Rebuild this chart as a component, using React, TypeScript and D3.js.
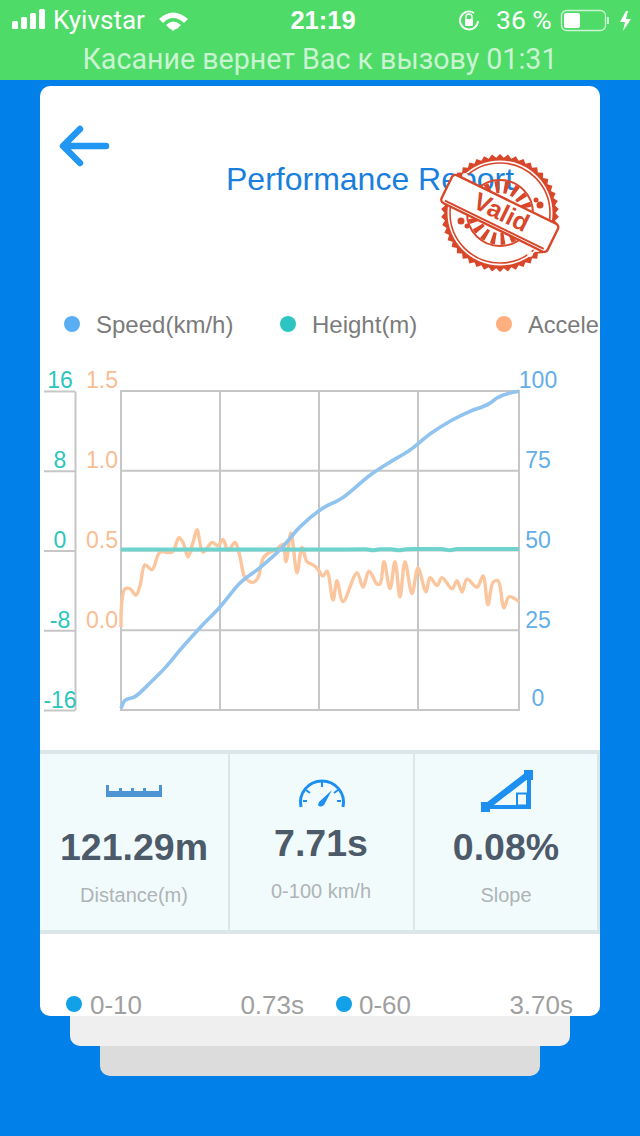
import React, { useEffect, useRef } from 'react';
import * as d3 from 'd3';

// sample index along the run, 398 samples in total
const speedSamples = [0, 4, 14, 29, 44, 59, 79, 99, 119, 139, 159, 179, 199, 222, 249, 269, 289, 309, 329, 349, 369, 376, 398];
const speedValues = [0.5, 3, 4.2, 8.5, 13.2, 18.8, 25.8, 32.3, 39.8, 44.6, 50.2, 57.4, 62.7, 66.6, 73.6, 77.7, 81.5, 86.5, 90.5, 93.6, 96.2, 97.8, 99.9];

const accelSamples = [0, 1, 4, 9, 15, 19, 24, 31, 39, 51, 58, 62, 67, 72, 76, 82, 91, 97, 102, 107, 114, 119, 124, 132, 137, 143, 156, 162, 165, 170, 176, 181, 186, 192, 196, 202, 206, 212, 216, 222, 236, 242, 248, 256, 259, 263, 269, 274, 279, 284, 291, 297, 305, 309, 316, 321, 331, 336, 341, 346, 356, 362, 367, 372, 377, 383, 388, 398];
const accelValues = [0.02, 0.19, 0.26, 0.26, 0.22, 0.28, 0.41, 0.38, 0.49, 0.49, 0.58, 0.55, 0.46, 0.55, 0.63, 0.49, 0.55, 0.53, 0.57, 0.5, 0.55, 0.46, 0.33, 0.3, 0.33, 0.46, 0.51, 0.54, 0.43, 0.61, 0.36, 0.52, 0.43, 0.41, 0.39, 0.34, 0.37, 0.19, 0.31, 0.18, 0.36, 0.27, 0.37, 0.29, 0.29, 0.43, 0.26, 0.43, 0.21, 0.43, 0.23, 0.39, 0.24, 0.33, 0.28, 0.33, 0.26, 0.31, 0.24, 0.32, 0.27, 0.34, 0.16, 0.3, 0.31, 0.14, 0.21, 0.18];

const heightSamples = [0, 100, 200, 245, 252, 259, 270, 278, 285, 295, 320, 329, 336, 398];
const heightValues = [0.1, 0.1, 0.1, 0.12, 0.02, 0.12, 0.12, 0.02, 0.12, 0.14, 0.14, 0.03, 0.14, 0.15];

const gridSamples = [0, 99, 198, 297, 398];
const speedTicks = [100, 75, 50, 25, 0];
const heightTicks = [16, 8, 0, -8, -16];
const accelTicks = [1.5, 1.0, 0.5, 0.0];

const legendNames = ['Speed(km/h)', 'Height(m)', 'Accele'];
const legendColors = ['#5aaef4', '#2cc5c2', '#fdb07e'];

const statValues = ['121.29m', '7.71s', '0.08%'];
const statLabels = ['Distance(m)', '0-100 km/h', 'Slope'];

const FONT = '"Liberation Sans", Arial, sans-serif';

const x = d3.scaleLinear().domain([0, 398]).range([121, 519]);
const ySpeed = d3.scaleLinear().domain([0, 100]).range([710, 391]);
const yHeight = d3.scaleLinear().domain([-16, 16]).range([710, 391]);
const yAccel = d3.scaleLinear().domain([-0.5, 1.5]).range([710, 391]);

function makeLine(xs: number[], ys: number[], scale: d3.ScaleLinear<number, number>, curve: d3.CurveFactory) {
  const pts = xs.map((d, i) => [d, ys[i]] as [number, number]);
  return d3.line<[number, number]>()
    .x(d => x(d[0]))
    .y(d => scale(d[1]))
    .curve(curve)(pts) as string;
}

const Stamp: React.FC = () => {
  const red = '#d9472b';
  const teeth = d3.range(0, 92).map(i => {
    const a = (i / 92) * Math.PI * 2;
    return [a, i % 2 === 0 ? 59 : 55.5] as [number, number];
  });
  const star = d3.lineRadial<[number, number]>().angle(d => d[0]).radius(d => d[1]).curve(d3.curveLinearClosed)(teeth) as string;
  const ring = d3.arc()({ innerRadius: 52.5, outerRadius: 0, startAngle: 0, endAngle: Math.PI * 2 }) as string;
  return (
    <g transform="translate(500,213)">
      <path d={`${star} ${ring}`} fill={red} fillRule="evenodd" />
      <circle r={50} fill="none" stroke={red} strokeWidth={1.6} />
      <circle r={33} fill="none" stroke={red} strokeWidth={2} />
      <circle r={26} fill="none" stroke={red} strokeWidth={12} strokeDasharray="4 5" />
      <g fill="#fff" opacity={0.9}>
        <circle cx={-41} cy={-32} r={4} />
        <circle cx={-35} cy={-37} r={3} />
        <circle cx={37} cy={35} r={4} />
        <circle cx={30} cy={41} r={3} />
      </g>
      <g fill={red}>
        <circle cx={40} cy={-8} r={3.5} />
        <circle cx={36} cy={-13} r={2.5} />
        <circle cx={-39} cy={8} r={3.5} />
        <circle cx={-33} cy={13} r={2.5} />
      </g>
      <g transform="rotate(26)">
        <rect x={-59} y={-15} width={118} height={31} rx={4} fill="#fff" stroke={red} strokeWidth={2.4} />
        <line x1={-55} x2={55} y1={13} y2={13} stroke={red} strokeWidth={2} />
        <text x={1} y={7} textAnchor="middle" fontFamily={FONT} fontSize={25} fontWeight={700} fill={red}>Valid</text>
      </g>
    </g>
  );
};

const StatusBar: React.FC = () => (
  <g fontFamily={FONT} fill="#fff">
    <rect x={0} y={0} width={640} height={80} fill="#4fdb67" />
    {[8, 12, 16, 20].map((h, i) => (
      <rect key={i} x={12 + i * 9} y={29 - h} width={6} height={h} rx={1.5} />
    ))}
    <text x={53} y={29} fontFamily="Roboto" fontSize={26}>Kyivstar</text>
    <path d="M159,19 Q173,6 188,19 L184,23 Q173,13 163,23 Z M166,25 Q173,18 181,25 L177,29 Q173,25 170,29 Z M173,31 L170,28 Q173,26 177,28 Z" />
    <text x={323} y={29} textAnchor="middle" fontWeight={700} fontSize={25.5}>21:19</text>
    <path d="M478,21 A9,9 0 1 1 474,13" fill="none" stroke="#fff" strokeWidth={1.8} />
    <rect x={465} y={19} width={8} height={7} rx={1} />
    <path d="M466,19 v-2 a3,3 0 0 1 6,0 v2" fill="none" stroke="#fff" strokeWidth={1.4} />
    <text x={496} y={29} fontFamily="Roboto" fontSize={26.5}>36 %</text>
    <rect x={561.5} y={10.5} width={44} height={20} rx={5} fill="none" stroke="#c9f3d2" strokeWidth={1.4} />
    <rect x={564} y={13} width={16} height={15} rx={2} />
    <rect x={607} y={17} width={2} height={7} fill="#c9f3d2" />
    <path d="M626,11 L620,22 L625,22 L623,31 L631,19 L626,19 L628,11 Z" />
    <text x={320} y={69} textAnchor="middle" fontFamily="Roboto" fontSize={28.6} fill="#c9f3d2">Касание вернет Вас к вызову 01:31</text>
  </g>
);

const StatIcons: React.FC = () => (
  <g>
    <path d="M106,785 h3 v6 h10 v-3 h3 v3 h9 v-3 h3 v3 h9 v-3 h3 v3 h13 v-6 h3 v12 h-56 Z" fill="#4d94d4" />
    <g fill="none" stroke="#1c8ff0">
      <path d="M301,807 A21.5,21.5 0 1 1 343,807" strokeWidth={3} />
      <path d="M322,782 v5 M306,790 l4,3 M338,790 l-4,3 M303,801 h4 M341,801 h-4" strokeWidth={2} />
    </g>
    <path d="M319,802 L332,790 L324,805 Q320,808 318,805 Z" fill="#1c8ff0" />
    <g fill="#1c8ff0">
      <rect x={481} y={802} width={9} height={10} />
      <rect x={524} y={770} width={9} height={10} />
      <rect x={527} y={775} width={4} height={34} />
      <rect x={485} y={805} width={46} height={4} />
      <path d="M486,803 L525,773 L529,778 L490,808 Z" />
    </g>
    <rect x={517} y={793.5} width={10} height={12} fill="none" stroke="#1c8ff0" strokeWidth={2} />
  </g>
);

export default function App() {
  const chartRef = useRef<SVGGElement>(null);

  useEffect(() => {
    if (!chartRef.current) return;
    const g = d3.select(chartRef.current);
    g.selectAll('*').remove();

    // grid
    const grid = g.append('g').attr('stroke', '#c6c6c6').attr('stroke-width', 2).attr('fill', 'none');
    grid.selectAll('line.v')
      .data(gridSamples)
      .enter()
      .append('line')
      .attr('class', 'v')
      .attr('x1', d => x(d))
      .attr('x2', d => x(d))
      .attr('y1', ySpeed(100) - 1)
      .attr('y2', ySpeed(0) + 1);
    grid.selectAll('line.h')
      .data(speedTicks)
      .enter()
      .append('line')
      .attr('class', 'h')
      .attr('x1', x(0))
      .attr('x2', x(398))
      .attr('y1', d => ySpeed(d))
      .attr('y2', d => ySpeed(d));

    // outer height axis, long ticks to the left
    const heightAxis = d3.axisRight(yHeight).tickValues(heightTicks).tickSize(0).tickPadding(0).tickFormat(d => String(d));
    const hg = g.append('g').attr('transform', 'translate(75,0)').call(heightAxis);
    hg.select('.domain').attr('stroke', '#c6c6c6').attr('stroke-width', 2);
    hg.selectAll('.tick line').attr('x2', -31).attr('stroke', '#c6c6c6').attr('stroke-width', 2);
    hg.selectAll<SVGTextElement, number>('.tick text')
      .attr('x', -15)
      .attr('y', d => (d === -16 ? -3 : d === 16 ? -4 : -3))
      .attr('dy', 0)
      .attr('text-anchor', 'middle')
      .attr('fill', '#2cc5bd');

    // acceleration axis
    const accelAxis = d3.axisLeft(yAccel).tickValues(accelTicks).tickSize(0).tickPadding(0).tickFormat(d3.format('.1f') as any);
    const ag = g.append('g').attr('transform', 'translate(118,0)').call(accelAxis);
    ag.select('.domain').remove();
    ag.selectAll<SVGTextElement, number>('.tick text').attr('y', d => (d === 1.5 ? -4 : -3)).attr('dy', 0).attr('fill', '#f8bd92');

    // speed axis
    const speedAxis = d3.axisRight(ySpeed).tickValues(speedTicks).tickSize(0).tickPadding(0);
    const sg = g.append('g').attr('transform', 'translate(538,0)').call(speedAxis);
    sg.select('.domain').remove();
    sg.selectAll<SVGTextElement, number>('.tick text')
      .attr('x', 0)
      .attr('y', d => (d === 0 ? -5 : d === 100 ? -4 : -3))
      .attr('dy', 0)
      .attr('text-anchor', 'middle')
      .attr('fill', '#62aee8');

    g.selectAll('text').attr('font-family', FONT).attr('font-size', 23);

    // series
    const series = g.append('g').attr('fill', 'none').attr('stroke-linejoin', 'round').attr('filter', 'url(#soft)');
    series.append('path')
      .attr('d', makeLine(accelSamples, accelValues, yAccel, d3.curveCatmullRom))
      .attr('stroke', '#fbc69e')
      .attr('stroke-width', 3.4);
    series.append('path')
      .attr('d', makeLine(heightSamples, heightValues, yHeight, d3.curveMonotoneX))
      .attr('stroke', '#6ed2cd')
      .attr('stroke-width', 4);
    series.append('path')
      .attr('d', makeLine(speedSamples, speedValues, ySpeed, d3.curveMonotoneX))
      .attr('stroke', '#90c4ef')
      .attr('stroke-width', 3.6);
  }, []);

  const statCenters = [134, 321, 506];
  const statBase = [860, 856, 860];
  const labelBase = [902, 898, 902];

  return (
    <svg width={640} height={1136} style={{ position: 'fixed', left: 0, top: 0, display: 'block' }}>
      <defs>
        <clipPath id="card">
          <rect x={40} y={86} width={560} height={930} />
        </clipPath>
        <filter id="soft" x="-5%" y="-5%" width="110%" height="110%">
          <feGaussianBlur stdDeviation={0.45} />
        </filter>
      </defs>

      <rect x={0} y={0} width={640} height={1136} fill="#0280ea" />
      <rect x={100} y={1020} width={440} height={56} rx={10} fill="#dcdcdc" />
      <rect x={70} y={1000} width={500} height={46} rx={10} fill="#efefef" />
      <rect x={40} y={86} width={560} height={930} rx={10} fill="#fff" />
      <StatusBar />

      <path d="M106,146 H64 M80,129 L63,146 L80,163" fill="none" stroke="#2196f3" strokeWidth={6.5} strokeLinecap="round" strokeLinejoin="round" />
      <text x={226} y={190} fontFamily={FONT} fontSize={32} fill="#1a7fdc">Performance Report</text>
      <Stamp />

      <g fontFamily={FONT}>
        {legendNames.map((name, i) => (
          <g key={name} transform={`translate(${72 + i * 216},324)`}>
            <circle r={8} fill={legendColors[i]} />
            <text x={24} y={9} fontSize={i === 2 ? 23.6 : 24} fill="#7b7b7b">{name}</text>
          </g>
        ))}
      </g>

      <g ref={chartRef} />

      <rect x={40} y={750} width={560} height={184} fill="#dbe6e8" />
      <rect x={40} y={754} width={188} height={176} fill="#f2fbfc" />
      <rect x={230} y={754} width={183} height={176} fill="#f2fbfc" />
      <rect x={415} y={754} width={182} height={176} fill="#f2fbfc" />
      <StatIcons />
      <g fontFamily={FONT} textAnchor="middle">
        {statValues.map((v, i) => (
          <text key={v} x={statCenters[i]} y={statBase[i]} fontSize={37.5} fontWeight={700} fill="#4c5a6a">{v}</text>
        ))}
        {statLabels.map((v, i) => (
          <text key={v} x={statCenters[i]} y={labelBase[i]} fontSize={20} fill="#aeb4b6">{v}</text>
        ))}
      </g>

      <g clipPath="url(#card)" fontFamily={FONT} fontSize={26} fill="#a0a0a0">
        <circle cx={74} cy={1004} r={8} fill="#12a0e8" />
        <text x={90} y={1014}>0-10</text>
        <text x={304} y={1014} textAnchor="end">0.73s</text>
        <circle cx={344} cy={1004} r={8} fill="#12a0e8" />
        <text x={359} y={1014}>0-60</text>
        <text x={573} y={1014} textAnchor="end">3.70s</text>
      </g>
    </svg>
  );
}
